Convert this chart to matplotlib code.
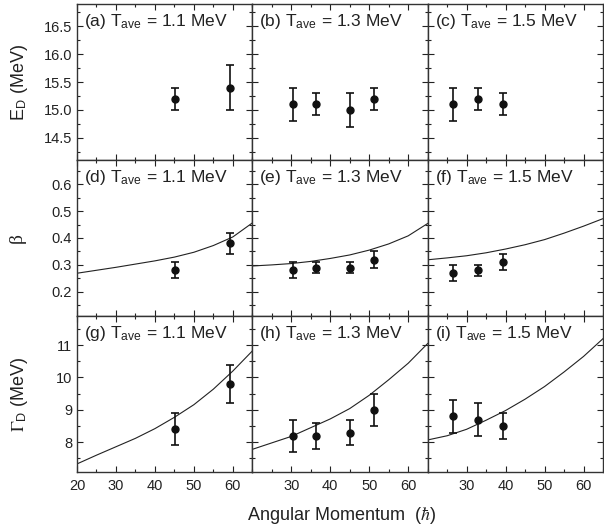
import numpy as np
import matplotlib
matplotlib.use("Agg")
import matplotlib.pyplot as plt
from matplotlib.ticker import MultipleLocator

plt.rcParams['font.family'] = ['Liberation Sans', 'DejaVu Sans']
plt.rcParams['mathtext.fontset'] = 'stix'

# temperatures for the three columns
temps = ["1.1", "1.3", "1.5"]
letters = ["a", "b", "c", "d", "e", "f", "g", "h", "i"]

# measured points: angular momentum per column
jx_11 = [45.1, 59.3]
jx_13 = [30.5, 36.3, 45.0, 51.3]
jx_15 = [26.5, 33.0, 39.3]

# E_D (MeV)
ed_11 = [15.2, 15.4]
ed_11_err = [0.2, 0.4]
ed_13 = [15.1, 15.1, 15.0, 15.2]
ed_13_err = [0.3, 0.2, 0.3, 0.2]
ed_15 = [15.1, 15.2, 15.1]
ed_15_err = [0.3, 0.2, 0.2]

# beta
beta_11 = [0.28, 0.38]
beta_11_err = [0.03, 0.04]
beta_13 = [0.28, 0.29, 0.29, 0.32]
beta_13_err = [0.03, 0.02, 0.02, 0.03]
beta_15 = [0.27, 0.28, 0.31]
beta_15_err = [0.03, 0.02, 0.03]

# Gamma_D (MeV)
gam_11 = [8.4, 9.8]
gam_11_err = [0.5, 0.6]
gam_13 = [8.2, 8.2, 8.3, 9.0]
gam_13_err = [0.5, 0.4, 0.4, 0.5]
gam_15 = [8.8, 8.7, 8.5]
gam_15_err = [0.5, 0.5, 0.4]

# model curves
cx = [20, 25, 30, 35, 40, 45, 50, 55, 60, 65]
beta_c11 = [0.269, 0.280, 0.291, 0.303, 0.315, 0.329, 0.347, 0.372, 0.404, 0.456]
beta_c13 = [0.296, 0.300, 0.305, 0.313, 0.324, 0.337, 0.355, 0.378, 0.408, 0.454]
beta_c15 = [0.319, 0.326, 0.334, 0.345, 0.359, 0.375, 0.394, 0.418, 0.444, 0.472]
gam_c11 = [7.33, 7.60, 7.86, 8.12, 8.42, 8.77, 9.16, 9.64, 10.20, 10.82]
gam_c13 = [7.78, 7.98, 8.18, 8.45, 8.72, 9.04, 9.45, 9.93, 10.44, 11.05]
gam_c15 = [8.07, 8.20, 8.40, 8.68, 8.98, 9.33, 9.72, 10.17, 10.65, 11.20]

jx = [jx_11, jx_13, jx_15]
rows = [
    dict(y=[ed_11, ed_13, ed_15], e=[ed_11_err, ed_13_err, ed_15_err], c=None,
         ylim=(14.1, 16.9), major=0.5, minor=0.25, fmt="%.1f",
         label=r"E$_{\mathregular{D}}$ (MeV)", fam=None, lx=-0.27),
    dict(y=[beta_11, beta_13, beta_15], e=[beta_11_err, beta_13_err, beta_15_err],
         c=[beta_c11, beta_c13, beta_c15],
         ylim=(0.11, 0.69), major=0.1, minor=0.05, fmt="%.1f",
         label="β", fam="Liberation Serif", lx=-0.29),
    dict(y=[gam_11, gam_13, gam_15], e=[gam_11_err, gam_13_err, gam_15_err],
         c=[gam_c11, gam_c13, gam_c15],
         ylim=(7.08, 11.9), major=1, minor=0.5, fmt="%d",
         label=r"$\Gamma_{\mathregular{D}}$ (MeV)", fam=None, lx=-0.27),
]

fig, axes = plt.subplots(3, 3, figsize=(6.04, 5.29), dpi=100)
fig.subplots_adjust(left=77/604, right=603/604, top=1-4/529, bottom=1-472/529,
                    wspace=0, hspace=0)

for r, row in enumerate(rows):
    for c in range(3):
        ax = axes[r, c]
        if row['c'] is not None:
            ax.plot(cx, row['c'][c], color='#222222', lw=0.8)
        ax.errorbar(jx[c], row['y'][c], yerr=row['e'][c], fmt='o', color='#111111',
                    ms=5, elinewidth=1.2, capsize=3, capthick=1.2)
        ax.set_xlim(20, 65)
        ax.set_ylim(*row['ylim'])
        if c == 0:
            ax.set_xticks([20, 30, 40, 50, 60])
        else:
            ax.set_xticks([30, 40, 50, 60])
        ax.xaxis.set_minor_locator(MultipleLocator(5))
        ax.yaxis.set_major_locator(MultipleLocator(row['major']))
        ax.yaxis.set_minor_locator(MultipleLocator(row['minor']))
        ax.tick_params(which='both', direction='in', top=True, right=True,
                       labelsize=10.5, colors='#222222', labelcolor='#222222')
        ax.tick_params(which='major', length=4, width=0.8)
        ax.tick_params(which='minor', length=2.5, width=0.8)
        for s in ax.spines.values():
            s.set_color('#333333')
            s.set_linewidth(1.0)
        if r < 2:
            ax.tick_params(labelbottom=False)
        else:
            ax.tick_params(axis='x', pad=5)
        if c == 0:
            ax.yaxis.set_major_formatter(plt.FormatStrFormatter(row['fmt']))
            if row['fam']:
                ax.set_ylabel(row['label'], fontsize=14, color='#222222', family=row['fam'])
            else:
                ax.set_ylabel(row['label'], fontsize=13, color='#222222')
            ax.yaxis.set_label_coords(row['lx'], 0.5)
        else:
            ax.tick_params(labelleft=False)
        k = r * 3 + c
        ax.text(0.04, 0.95, "(%s) T$_{\\mathregular{ave}}$ = %s MeV" % (letters[k], temps[c]),
                transform=ax.transAxes, ha='left', va='top', fontsize=12.5, color='#222222')

fig.text(0.565, 0.026, r"Angular Momentum  ($\hbar$)", ha='center', va='center',
         fontsize=13, color='#222222')

fig.savefig("out.png", dpi=100)
